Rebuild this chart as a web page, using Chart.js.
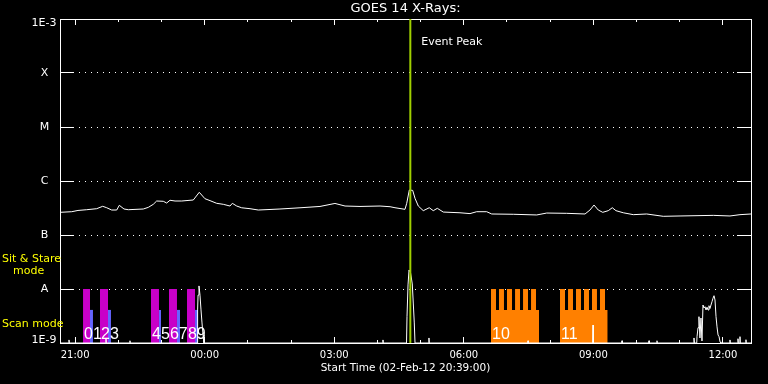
<!DOCTYPE html>
<html>
<head>
<meta charset="utf-8">
<title>GOES 14 X-Rays</title>
<script src="https://cdn.jsdelivr.net/npm/chart.js"></script>
<style>
  html, body { margin: 0; padding: 0; background: #000; }
  #wrap { width: 768px; height: 384px; }
</style>
</head>
<body>
<div id="wrap"><canvas id="goesChart"></canvas></div>
<script>
// Time axis: minutes after the start time (02-Feb-12 20:39:00)
const majorTickMinutes = [21, 201, 381, 561, 741, 921];
const timeLabels = ['21:00', '00:00', '03:00', '06:00', '09:00', '12:00'];
const hourTickMinutes = [21, 81, 141, 201, 261, 321, 381, 441, 501, 561, 621, 681, 741, 801, 861, 921];

// Flux axis (W/m^2)
const fluxTickValues = [1e-9, 1e-8, 1e-7, 1e-6, 1e-5, 1e-4, 1e-3];
const fluxTickLabels = ['1E-9', 'A', 'B', 'C', 'M', 'X', '1E-3'];

// GOES 14 long channel
const fluxMinutes = [0, 16.3, 25, 37.1, 51, 59.3, 64.9, 71.8, 78.8, 82.4, 88.9, 94.9, 115.7, 122.7,
  129.6, 134.3, 143.5, 148.2, 152.8, 159.8, 169.1, 185.2, 193.5, 201.4, 208.4, 217.7, 226.9, 236.2,
  239.4, 245.5, 252.4, 264, 275.5, 305.6, 333.4, 361.2, 382, 396, 416.8, 444.6, 458.5, 465.4, 479.3,
  481.7, 485.3, 490, 493.2, 497.8, 504.7, 513, 518.6, 524.2, 532.5, 555.7, 569.6, 578.9, 592.8, 599.8,
  629.8, 662.3, 676.2, 703.9, 729.4, 736.3, 741.9, 747.8, 754, 761.7, 767.3, 772.4, 782.6, 796.5,
  815.1, 838.1, 861.4, 907.6, 930.8, 944.7, 960];
const fluxValues = [2.63e-7, 2.70e-7, 2.85e-7, 2.94e-7, 3.07e-7, 3.40e-7, 3.20e-7, 2.90e-7, 2.90e-7,
  3.55e-7, 3.03e-7, 2.94e-7, 3.03e-7, 3.25e-7, 3.70e-7, 4.26e-7, 4.21e-7, 3.91e-7, 4.40e-7, 4.26e-7,
  4.26e-7, 4.45e-7, 6.18e-7, 4.70e-7, 4.33e-7, 3.86e-7, 3.70e-7, 3.44e-7, 3.86e-7, 3.44e-7, 3.19e-7,
  3.07e-7, 2.90e-7, 3.03e-7, 3.19e-7, 3.38e-7, 3.84e-7, 3.44e-7, 3.38e-7, 3.44e-7, 3.34e-7, 3.20e-7,
  2.99e-7, 3.86e-7, 6.81e-7, 6.70e-7, 4.78e-7, 3.44e-7, 2.82e-7, 3.20e-7, 2.82e-7, 3.12e-7, 2.66e-7,
  2.58e-7, 2.49e-7, 2.70e-7, 2.70e-7, 2.45e-7, 2.42e-7, 2.35e-7, 2.55e-7, 2.52e-7, 2.45e-7, 2.90e-7,
  3.59e-7, 2.90e-7, 2.63e-7, 2.82e-7, 3.20e-7, 2.82e-7, 2.58e-7, 2.38e-7, 2.45e-7, 2.22e-7, 2.25e-7,
  2.31e-7, 2.25e-7, 2.38e-7, 2.45e-7];

// low trace along the bottom
const lowMinutes = [0, 12, 12.5, 13, 63.5, 63.9, 64.3, 96.8, 97.2, 97.6,
  190.5, 191.2, 191.8, 193.1, 194.5, 195.9, 197.3, 198.7, 200,
  448.3, 448.7, 449.1,
  481.4, 482.1, 483.5, 484.9, 487, 489.4, 490.8, 492.2, 493.2,
  512.2, 512.6, 513, 649.8, 650.2, 650.6, 740, 740.5, 741, 780.4, 780.8, 781.2,
  817.9, 818.3, 818.7, 829, 829.4, 829.8,
  880.4, 880.8, 881.5, 884.6, 885, 886.4, 887.7, 889.1, 890.5, 891.9, 893.3, 894.7, 896.1, 897.5,
  898.9, 900.3, 901.6, 903, 904.4, 905.8, 907.2, 908.6, 910, 911.4, 912.8, 914.2, 915.6, 917, 918,
  930.4, 930.8, 931.2, 941.5, 941.9, 942.5, 944.3, 944.7, 945.1, 952.6, 953, 953.4, 960];
const lowValues = [1e-9, 1e-9, 1.14e-9, 1e-9, 1e-9, 1.2e-9, 1e-9, 1e-9, 1.1e-9, 1e-9,
  1e-9, 4.1e-9, 7.7e-9, 1.14e-8, 7.7e-9, 4.1e-9, 2.35e-9, 1.41e-9, 1e-9,
  1e-9, 1.14e-9, 1e-9,
  1e-9, 3.07e-9, 1.19e-8, 2.25e-8, 2.0e-8, 1.24e-8, 5.5e-9, 2.35e-9, 1e-9,
  1e-9, 1.24e-9, 1e-9, 1e-9, 1.1e-9, 1e-9, 1e-9, 2.15e-9, 1e-9, 1e-9, 1.1e-9, 1e-9,
  1e-9, 1.1e-9, 1e-9, 1e-9, 1.1e-9, 1e-9,
  1e-9, 1.24e-9, 1e-9, 1e-9, 1.31e-9, 1.92e-9, 3.07e-9, 1.24e-9, 2.9e-9, 1.09e-9, 5.05e-9, 4.45e-9,
  4.7e-9, 4.08e-9, 4.6e-9, 4.08e-9, 4.9e-9, 4.35e-9, 5.05e-9, 5.82e-9, 6.73e-9, 7.51e-9, 6.26e-9,
  3.07e-9, 1.99e-9, 1.41e-9, 1.31e-9, 1.05e-9, 1e-9,
  1e-9, 1.14e-9, 1e-9, 1e-9, 1.2e-9, 1e-9, 1e-9, 1.31e-9, 1e-9, 1e-9, 1.15e-9, 1e-9, 1e-9];

const eventPeak = 486.7;

// observing intervals (minutes)
const highLevel = 1e-8;
const lowLevel = 4.1e-9;
const sitStareStart = [32, 55.6, 126.4, 151.4, 176.4];
const sitStareEnd = [41.7, 66.7, 137.5, 162.5, 187.6];
const scanStart = [41.7, 66.7, 137.5, 162.5, 187.6];
const scanEnd = [45.8, 70.8, 140.3, 166.7, 191.7];
const scanLabels = ['01', '23', '45', '67', '89'];

const stareBlockStart = [598.8, 694.6];
const stareBlockEnd = [665.5, 760.9];
const stareLabels = ['10', '11'];
const teethStart = [598.8, 609.9, 621.0, 632.2, 643.3, 654.4, 694.6, 705.8, 716.9, 728.0, 739.1, 750.2];
const teethEnd = [605.7, 616.8, 628.0, 639.1, 650.2, 661.3, 701.6, 712.7, 723.8, 735.0, 746.0, 757.2];

const white = '#ffffff';
const face = '"DejaVu Sans", sans-serif';

function bandPoints(starts, ends, level) {
    const pts = [];
    starts.forEach((s, i) => {
        pts.push({x: s, y: level}, {x: ends[i], y: level}, {x: ends[i], y: null});
    });
    return pts;
}

function setTicks(values) {
    return scale => { scale.ticks = values.map(v => ({value: v})); };
}

function band(points, color) {
    return {
        data: points,
        fill: 'start',
        backgroundColor: color,
        borderWidth: 0,
        borderColor: 'rgba(0,0,0,0)',
        pointRadius: 0,
        spanGaps: false
    };
}

const isEndTick = i => i === 0 || i === fluxTickValues.length - 1;

// texts on top of the plot
const overlayText = {
    id: 'overlayText',
    afterDatasetsDraw(chart) {
        const {ctx, chartArea, scales: {x}} = chart;
        ctx.save();
        ctx.fillStyle = white;
        ctx.textAlign = 'left';
        ctx.textBaseline = 'alphabetic';
        ctx.font = '16px "Liberation Sans", Arial, sans-serif';
        scanLabels.forEach((t, i) => {
            ctx.fillText(t, x.getPixelForValue(sitStareStart[i]) + 1, chartArea.bottom - 4);
        });
        stareLabels.forEach((t, i) => {
            ctx.fillText(t, x.getPixelForValue(stareBlockStart[i]) + 1, chartArea.bottom - 4);
        });

        ctx.textBaseline = 'middle';
        ctx.font = '11px ' + face;
        ctx.fillText('Event Peak', x.getPixelForValue(eventPeak) + 11, chartArea.top + 23);

        // end labels of the flux axis sit just inside the frame
        ctx.textAlign = 'center';
        ctx.fillText(fluxTickLabels[fluxTickLabels.length - 1], 44, chartArea.top + 4);
        ctx.fillText(fluxTickLabels[0], 44, chartArea.bottom - 3);

        ctx.textAlign = 'left';
        ctx.fillStyle = '#ffff00';
        ctx.fillText('Sit & Stare', 2, chartArea.bottom - 84);
        ctx.fillText('mode', 13, chartArea.bottom - 72);
        ctx.fillText('Scan mode', 2, chartArea.bottom - 19);
        ctx.restore();
    }
};

const xBase = {type: 'linear', min: 0, max: 960};
const yBase = {type: 'logarithmic', min: 1e-9, max: 1e-3, afterBuildTicks: setTicks(fluxTickValues)};

new Chart(document.getElementById('goesChart'), {
    type: 'line',
    data: {
        datasets: [
            {
                data: [{x: eventPeak, y: 1e-9}, {x: eventPeak, y: 1e-3}],
                borderColor: '#a0d000',
                borderWidth: 2,
                pointRadius: 0
            },
            {
                data: fluxMinutes.map((m, i) => ({x: m, y: fluxValues[i]})),
                borderColor: white,
                borderWidth: 1,
                pointRadius: 0
            },
            {
                data: lowMinutes.map((m, i) => ({x: m, y: lowValues[i]})),
                borderColor: white,
                borderWidth: 1,
                pointRadius: 0
            },
            band(bandPoints(scanStart, scanEnd, lowLevel), '#6464ff'),
            band(bandPoints(sitStareStart, sitStareEnd, highLevel), '#c800c8'),
            band(bandPoints(teethStart, teethEnd, highLevel), '#ff8000'),
            band(bandPoints(stareBlockStart, stareBlockEnd, lowLevel), '#ff8000')
        ]
    },
    options: {
        responsive: true,
        maintainAspectRatio: false,
        animation: false,
        events: [],
        layout: {padding: 0, autoPadding: false},
        elements: {line: {tension: 0}},
        plugins: {
            legend: {display: false},
            tooltip: {enabled: false},
            title: {display: false}
        },
        scales: {
            x: Object.assign({}, xBase, {
                position: 'bottom',
                weight: 1,
                afterBuildTicks: setTicks(majorTickMinutes),
                afterFit: s => { s.height = 41; },
                ticks: {
                    color: white,
                    font: {family: face, size: 10},
                    padding: 12,
                    autoSkip: false,
                    maxRotation: 0,
                    callback: (v, i) => timeLabels[i]
                },
                grid: {drawOnChartArea: false, tickLength: -6, tickColor: white},
                border: {color: white},
                title: {
                    display: true,
                    text: 'Start Time (02-Feb-12 20:39:00)',
                    color: white,
                    font: {family: face, size: 10.5},
                    padding: {top: 0, bottom: 9}
                }
            }),
            xMinor: Object.assign({}, xBase, {
                position: 'bottom',
                weight: 0,
                afterBuildTicks: setTicks(hourTickMinutes),
                afterFit: s => { s.height = 0; },
                ticks: {display: false},
                grid: {drawOnChartArea: false, tickLength: -3, tickColor: white},
                border: {display: false}
            }),
            xTop: Object.assign({}, xBase, {
                position: 'top',
                weight: 1,
                afterBuildTicks: setTicks(majorTickMinutes),
                afterFit: s => { s.height = 19; },
                ticks: {display: false},
                grid: {drawOnChartArea: false, tickLength: -6, tickColor: white},
                border: {color: white},
                title: {
                    display: true,
                    text: 'GOES 14 X-Rays:',
                    color: white,
                    font: {family: face, size: 13},
                    padding: {top: 1, bottom: 0}
                }
            }),
            xTopMinor: Object.assign({}, xBase, {
                position: 'top',
                weight: 0,
                afterBuildTicks: setTicks(hourTickMinutes),
                afterFit: s => { s.height = 0; },
                ticks: {display: false},
                grid: {drawOnChartArea: false, tickLength: -3, tickColor: white},
                border: {display: false}
            }),
            y: Object.assign({}, yBase, {
                position: 'left',
                afterFit: s => { s.width = 60; s.paddingTop = 0; s.paddingBottom = 0; },
                ticks: {
                    color: c => isEndTick(c.index) ? 'rgba(0,0,0,0)' : white,
                    font: {family: face, size: 11},
                    padding: 17,
                    crossAlign: 'center',
                    autoSkip: false,
                    callback: (v, i) => fluxTickLabels[i]
                },
                grid: {
                    color: c => isEndTick(c.index) ? 'rgba(0,0,0,0)' : white,
                    lineWidth: 1,
                    tickLength: -14,
                    tickColor: white
                },
                border: {color: white, dash: [1, 5]}
            }),
            yRight: Object.assign({}, yBase, {
                position: 'right',
                afterFit: s => { s.width = 17; s.paddingTop = 0; s.paddingBottom = 0; },
                ticks: {display: false},
                grid: {drawOnChartArea: false, tickLength: -14, tickColor: white},
                border: {color: white}
            })
        }
    },
    plugins: [overlayText]
});
</script>
</body>
</html>
